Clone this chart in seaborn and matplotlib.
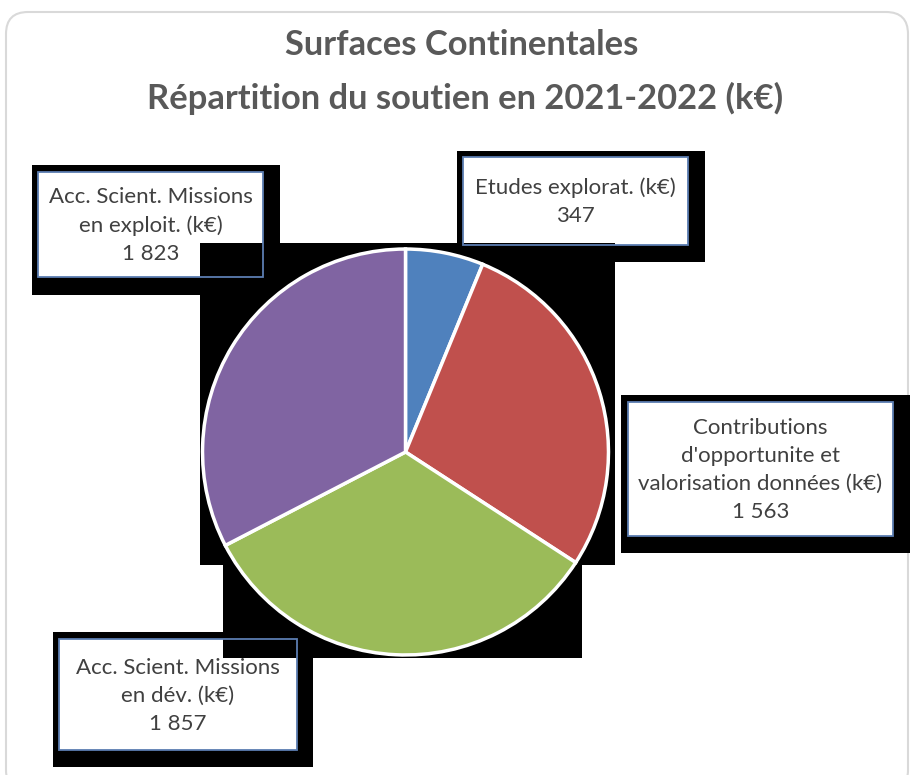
import matplotlib
matplotlib.use("Agg")
import matplotlib.pyplot as plt
from matplotlib.patches import Rectangle, FancyBboxPatch
import seaborn as sns

# data
categories = ["Etudes explorat. (k€)",
              "Contributions\nd'opportunite et\nvalorisation données (k€)",
              "Acc. Scient. Missions\nen dév. (k€)",
              "Acc. Scient. Missions\nen exploit. (k€)"]
values = [347, 1563, 1857, 1823]
slice_colors = ["#4F81BD", "#C0504D", "#9BBB59", "#8064A2"]

sns.set_theme(style="white")
plt.rcParams['font.family'] = ['Lato', 'DejaVu Sans']

W, H = 913, 775
fig = plt.figure(figsize=(W / 100, H / 100), dpi=100)

# background layer in pixel coordinates
bg = fig.add_axes([0, 0, 1, 1], zorder=0)
bg.set_xlim(0, W)
bg.set_ylim(H, 0)
bg.axis("off")

frame = FancyBboxPatch((6, 12), 902, 780, boxstyle="round,pad=0,rounding_size=22",
                       fc="white", ec="#D9D9D9", lw=1.5, zorder=0)
bg.add_patch(frame)

bg.text(462, 45, "Surfaces Continentales", ha="center", va="center",
        fontsize=24.8, fontweight="bold", color="#595959")
bg.text(465, 98, "Répartition du soutien en 2021-2022 (k€)", ha="center", va="center",
        fontsize=24.8, fontweight="bold", color="#595959")

# label boxes: (box x0, y0, x1, y1), shadow (x0, y0, x1, y1)
boxes = [((463, 157, 688, 245), (457, 151, 705, 262)),
         ((628, 402, 893, 536), (621, 395, 910, 553)),
         ((59, 639, 297, 750), (53, 632, 313, 767)),
         ((38, 172, 263, 277), (32, 165, 280, 295))]

for (b, s) in boxes:
    bg.add_patch(Rectangle((s[0], s[1]), s[2] - s[0], s[3] - s[1], fc="black", ec="none", zorder=1))
    bg.add_patch(Rectangle((b[0], b[1]), b[2] - b[0], b[3] - b[1], fc="white", ec="none", zorder=2))

# dark plot area behind the pie
bg.add_patch(Rectangle((200, 243), 415, 322, fc="black", ec="none", zorder=3))
bg.add_patch(Rectangle((223, 547), 359, 111, fc="black", ec="none", zorder=3))

for (b, s), name, val in zip(boxes, categories, values):
    bg.add_patch(Rectangle((b[0], b[1]), b[2] - b[0], b[3] - b[1], fc="none", ec="#5B7DB1", lw=1.3, zorder=4))
    label = name + "\n" + f"{val:,}".replace(",", " ")
    bg.text((b[0] + b[2]) / 2, (b[1] + b[3]) / 2 + 1, label, ha="center", va="center",
            fontsize=16, color="#404040", linespacing=1.5, zorder=5)

# pie
cx, cy, r = 405.5, 452, 205
ax = fig.add_axes([(cx - r) / W, (H - cy - r) / H, 2 * r / W, 2 * r / H], zorder=1)
ax.pie(values, colors=slice_colors, startangle=90, counterclock=False,
       wedgeprops=dict(edgecolor="white", linewidth=2.5))
ax.set_xlim(-1.01, 1.01)
ax.set_ylim(-1.01, 1.01)
ax.axis("off")

fig.savefig("out.png", dpi=100)
